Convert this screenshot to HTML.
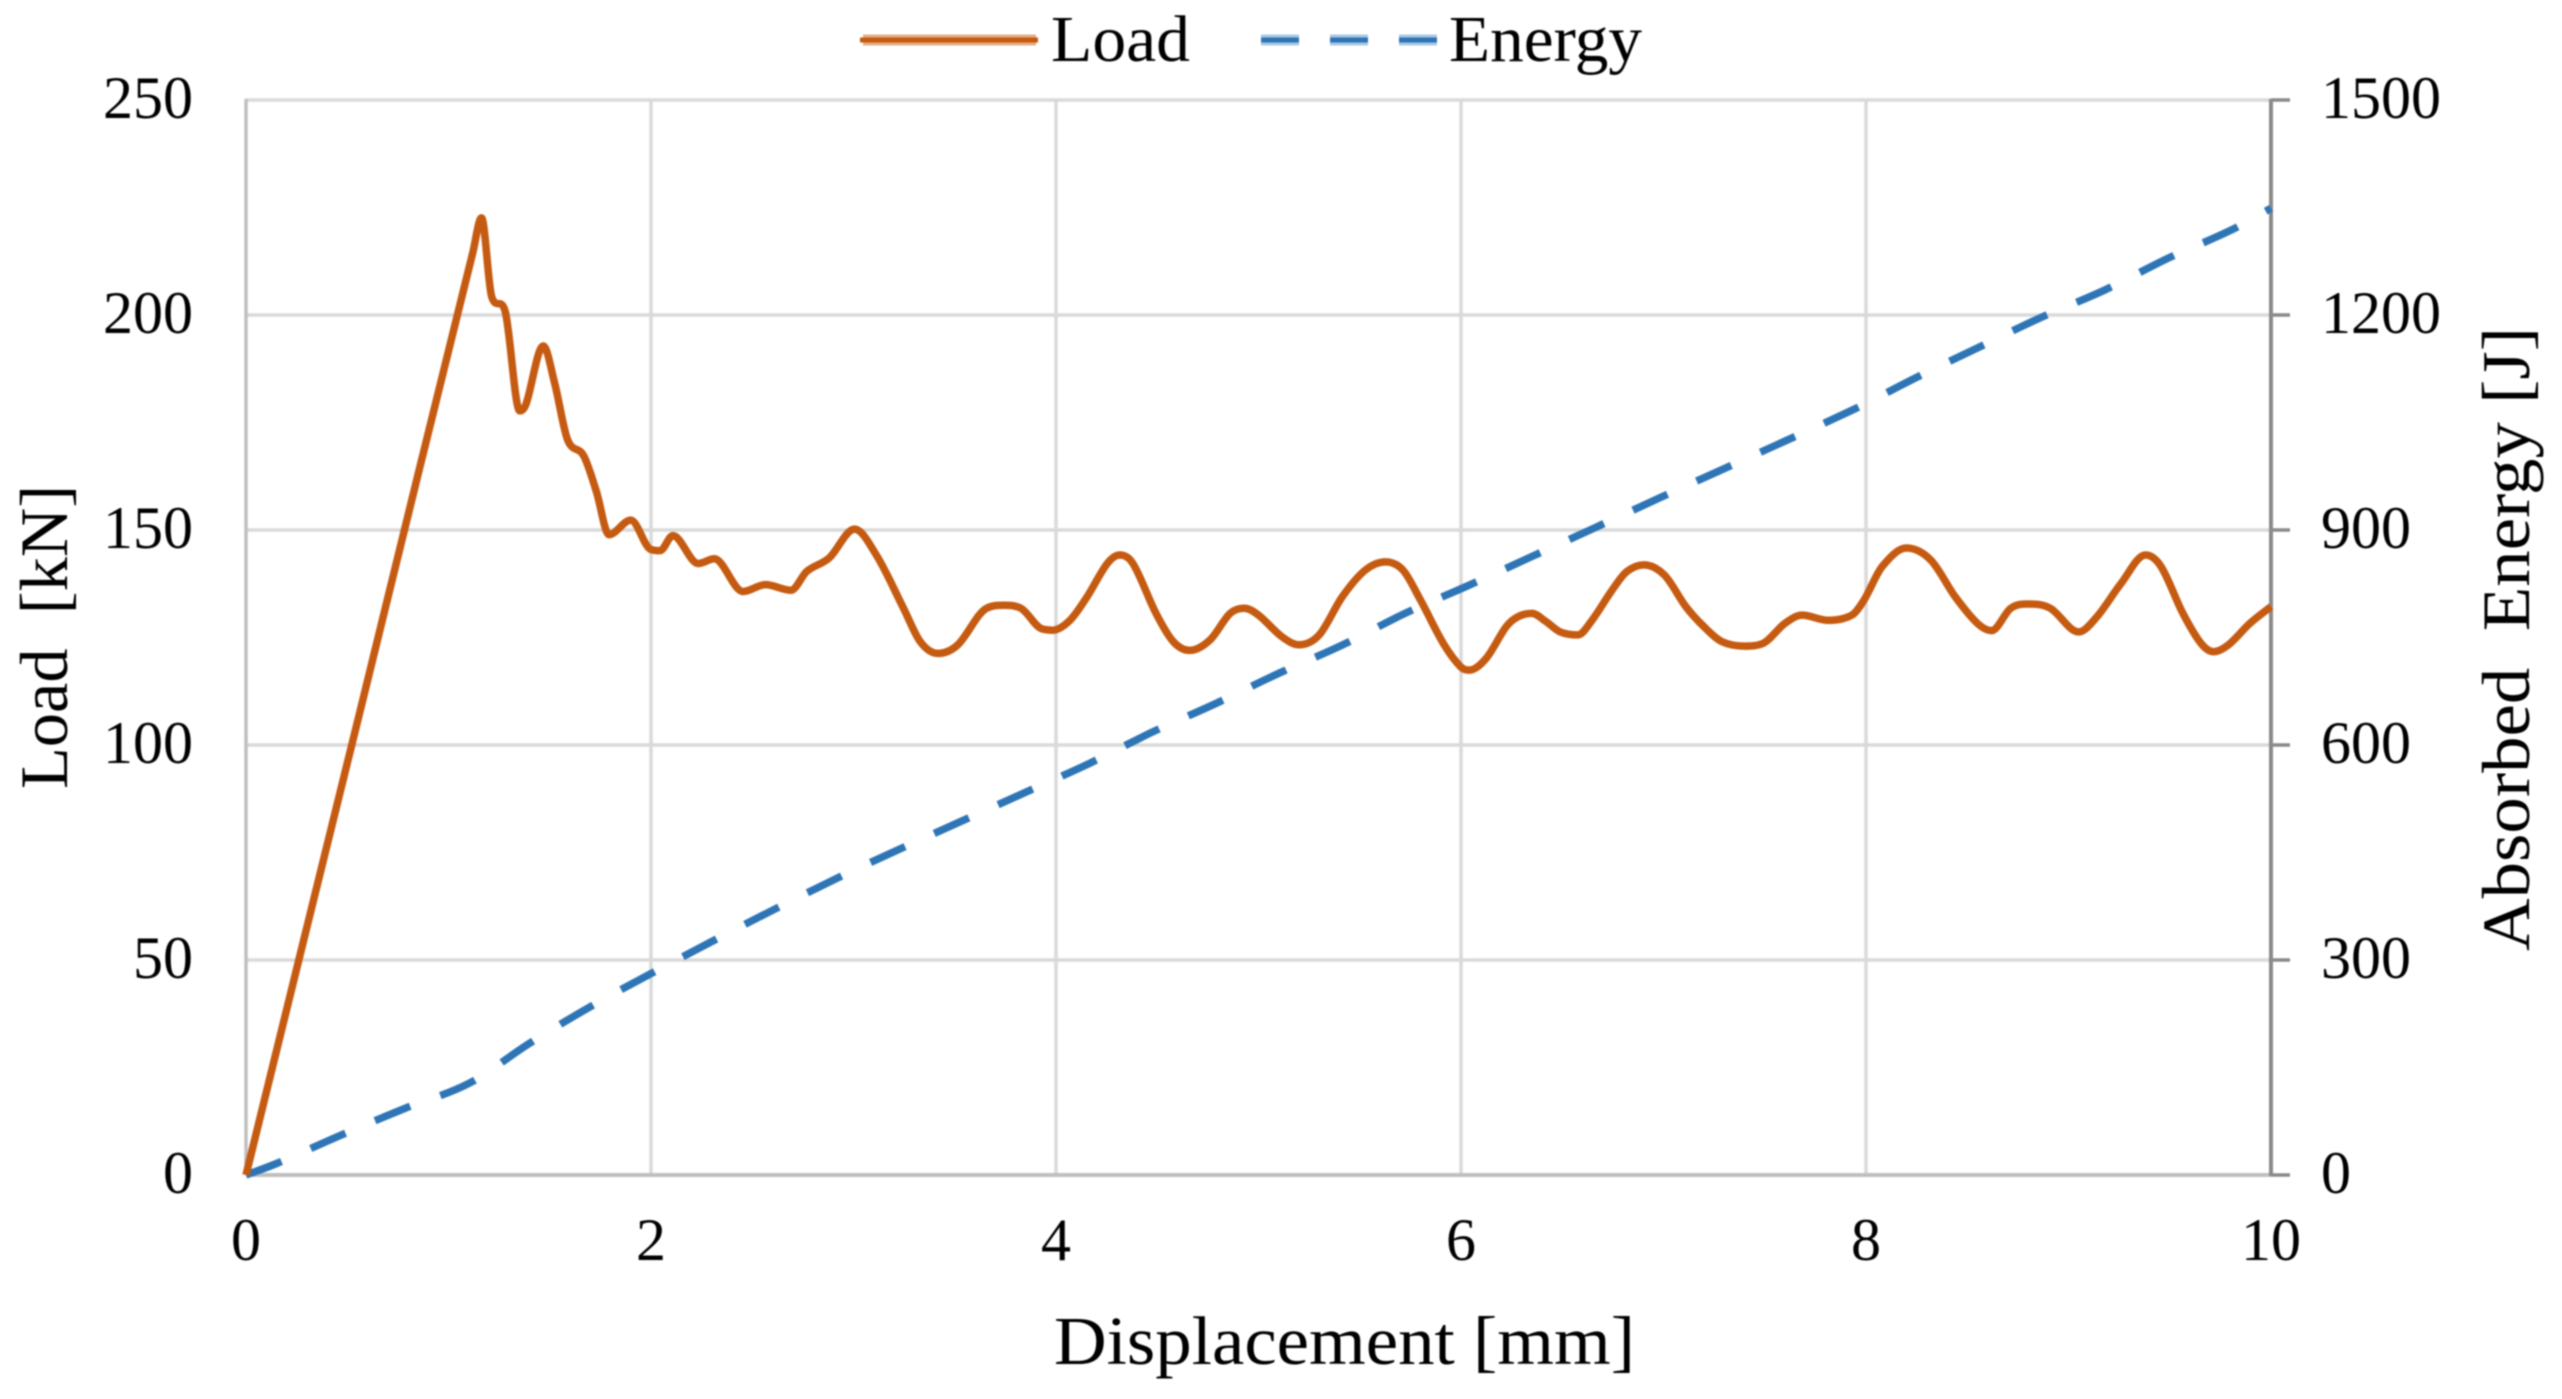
<!DOCTYPE html>
<html>
<head>
<meta charset="utf-8">
<title>Load and Absorbed Energy vs Displacement</title>
<style>
html,body{margin:0;padding:0;background:#fff;width:2562px;height:1399px;overflow:hidden}
svg{display:block;filter:blur(0.7px)}
text{font-family:"Liberation Serif",serif;fill:#000}
</style>
</head>
<body>
<svg id="chart" xmlns="http://www.w3.org/2000/svg" width="2562" height="1399" viewBox="0 0 2562 1399">
  <rect x="-5" y="-5" width="2572" height="1409" fill="#fff"/>
  <g id="grid"></g>
  <g id="axes"></g>
  <g id="ticks"></g>
  <g id="series"></g>

  <text x="1054" y="1364" font-size="69" textLength="581" lengthAdjust="spacingAndGlyphs">Displacement [mm]</text>
  <text transform="translate(67,789) rotate(-90)" font-size="68" textLength="304" lengthAdjust="spacingAndGlyphs">Load&#160;&#160;[kN]</text>
  <text transform="translate(2529,951) rotate(-90)" font-size="68" textLength="624" lengthAdjust="spacingAndGlyphs">Absorbed&#160;&#160;Energy [J]</text>

  <g>
    <g>
      <line x1="863" y1="40" x2="1036" y2="40" stroke="#E4AB87" stroke-width="11"/>
      <line x1="860" y1="40" x2="1038" y2="40" stroke="#C55A11" stroke-width="5"/>
      <text x="1051" y="61" font-size="66" textLength="139" lengthAdjust="spacingAndGlyphs">Load</text>
    </g>
    <g>
      <line x1="1261" y1="40" x2="1438" y2="40" stroke="#A8C8E4" stroke-width="11" stroke-dasharray="38 31"/>
      <line x1="1261" y1="40" x2="1438" y2="40" stroke="#2E75B6" stroke-width="5" stroke-dasharray="38 31"/>
      <text x="1449" y="61" font-size="66" textLength="193" lengthAdjust="spacingAndGlyphs">Energy</text>
    </g>
  </g>
</svg>
<script>
const xTickLabels = [0, 2, 4, 6, 8, 10];
const loadTickLabels = [0, 50, 100, 150, 200, 250];
const energyTickLabels = [0, 300, 600, 900, 1200, 1500];

const loadDisp = [0,0.3,0.564,0.85,1.12,1.163,1.213,1.279,1.352,1.383,1.468,1.525,1.588,1.667,1.73,1.793,1.90,1.998,2.045,2.108,2.233,2.313,2.454,2.565,2.691,2.77,2.88,3.005,3.115,3.245,3.33,3.416,3.515,3.657,3.742,3.827,3.926,3.983,4.069,4.154,4.253,4.315,4.38,4.494,4.58,4.66,4.76,4.86,4.93,5.0,5.115,5.2,5.3,5.414,5.528,5.627,5.713,5.8,5.913,5.998,6.04,6.125,6.223,6.28,6.35,6.42,6.49,6.577,6.647,6.746,6.818,6.903,7.005,7.11,7.2,7.29,7.4,7.49,7.6,7.685,7.81,7.93,7.99,8.08,8.2,8.32,8.44,8.55,8.62,8.715,8.8,8.91,9.05,9.14,9.26,9.38,9.457,9.565,9.655,9.716,9.79,9.896,10];
const loadValues = [0,57.5,108,163,214.5,222.6,204.3,201,177.7,179.3,192.8,184,171,167.3,159,148.9,152.3,145.5,145.2,148.7,142.2,143.3,135.7,137.3,136,140.4,143.5,150.2,144,132,124,121.3,123.3,131.8,132.5,131.8,127.1,126.7,129,134.5,142.2,144.2,142.2,130.6,124,122,124.4,130.6,131.8,130.2,125.2,123.3,125.6,134.5,140.7,142.6,140.7,133.7,123.6,118.2,117.4,120.2,127.5,129.8,130.6,128.7,126.3,125.6,129,136,140.3,141.9,139.5,132.2,127.5,124,123,123.6,128.3,130.2,129,130.2,133.7,141.5,145.8,143,134.5,128.3,126.6,131.8,132.8,131.8,126.3,129.8,137.6,144.2,141.5,130.6,123.6,121.7,123.3,128.3,132.2];

const energyDisp = [0,0.154,0.47,0.785,1.1,1.4,1.7,2,2.5,3,3.856,4.167,4.48,4.79,5.1,5.414,5.726,6.04,6.35,6.66,6.99,7.93,8.25,8.55,8.86,9.18,9.49,9.8,10];
const energyValues = [0,16.4,55.8,93,127.7,183.7,234.8,281,355,425,534.8,574.6,618.6,658,700,739.5,784,823,863,903,946,1067,1113,1154,1196,1235,1279,1318,1349];

const plotLeft = 246, plotRight = 2271, plotTop = 100, plotBottom = 1175;
const xMax = 10, loadMax = 250, energyMax = 1500;
const scaleX = function (v) { return plotLeft + (v / xMax) * (plotRight - plotLeft); };
const scaleLoad = function (v) { return plotBottom - (v / loadMax) * (plotBottom - plotTop); };
const scaleEnergy = function (v) { return plotBottom - (v / energyMax) * (plotBottom - plotTop); };

const NS = 'http://www.w3.org/2000/svg';
function make(tag, parent) {
  const el = document.createElementNS(NS, tag);
  parent.appendChild(el);
  return el;
}
function setLine(el, x1, y1, x2, y2, stroke, width) {
  el.setAttribute('x1', x1);
  el.setAttribute('y1', y1);
  el.setAttribute('x2', x2);
  el.setAttribute('y2', y2);
  el.setAttribute('stroke', stroke);
  el.setAttribute('stroke-width', width);
}
function setLabel(el, x, y, anchor, content) {
  el.setAttribute('x', x);
  el.setAttribute('y', y);
  el.setAttribute('text-anchor', anchor);
  el.setAttribute('font-size', 60);
  el.textContent = content;
}
/* Monotone cubic through the data so peaks stay rounded without overshoot */
function smoothPath(xs, ys, fx, fy) {
  const px = xs.map(fx), py = ys.map(fy), n = px.length;
  const sec = [];
  for (let i = 0; i < n - 1; i++) sec.push((py[i + 1] - py[i]) / (px[i + 1] - px[i]));
  const m = [sec[0]];
  for (let i = 1; i < n - 1; i++) {
    if (sec[i - 1] * sec[i] <= 0) { m.push(0); continue; }
    const t = (py[i + 1] - py[i - 1]) / (px[i + 1] - px[i - 1]);
    const lim = 3 * Math.min(Math.abs(sec[i - 1]), Math.abs(sec[i]));
    m.push(Math.sign(t) * Math.min(Math.abs(t), lim));
  }
  m.push(sec[n - 2]);
  let d = 'M' + px[0].toFixed(2) + ' ' + py[0].toFixed(2);
  for (let i = 0; i < n - 1; i++) {
    const h = (px[i + 1] - px[i]) / 3;
    d += 'C' + (px[i] + h).toFixed(2) + ' ' + (py[i] + m[i] * h).toFixed(2) + ' ' + (px[i + 1] - h).toFixed(2) + ' ' + (py[i + 1] - m[i + 1] * h).toFixed(2) + ' ' + px[i + 1].toFixed(2) + ' ' + py[i + 1].toFixed(2);
  }
  return d;
}

const gridG = document.getElementById('grid');
const axesG = document.getElementById('axes');
const ticksG = document.getElementById('ticks');
const seriesG = document.getElementById('series');

xTickLabels.forEach(function (v) {
  if (v === 0 || v === xMax) return;
  const ln = make('line', gridG);
  
  
  setLine(ln, scaleX(v), plotTop, scaleX(v), plotBottom, '#d9d9d9', 3.5);
});
loadTickLabels.forEach(function (v) {
  if (v === 0) return;
  const ln = make('line', gridG);
  
  
  setLine(ln, plotLeft, scaleLoad(v), plotRight, scaleLoad(v), '#d9d9d9', 3.5);
});

const leftAxis = make('line', axesG);


setLine(leftAxis, plotLeft, plotTop - 1, plotLeft, plotBottom, '#bfbfbf', 3.5);

const bottomAxis = make('line', axesG);


setLine(bottomAxis, plotLeft, plotBottom, plotRight, plotBottom, '#bfbfbf', 4);

const rightAxis = make('line', axesG);


setLine(rightAxis, plotRight, plotTop - 1, plotRight, plotBottom + 1, '#8a8a8a', 4);

energyTickLabels.forEach(function (v) {
  const t = make('line', axesG);
  
  
  setLine(t, plotRight, scaleEnergy(v), plotRight + 19, scaleEnergy(v), '#8a8a8a', 3.5);
});

xTickLabels.forEach(function (v) {
  const t = make('text', ticksG);
  
  
  setLabel(t, scaleX(v), 1260, 'middle', v);
});
loadTickLabels.forEach(function (v) {
  const t = make('text', ticksG);
  
  
  setLabel(t, 193, scaleLoad(v) + 18, 'end', v);
});
energyTickLabels.forEach(function (v) {
  const t = make('text', ticksG);
  
  
  setLabel(t, 2321, scaleEnergy(v) + 18, 'start', v);
});

const energyLine = make('path', seriesG);


energyLine.setAttribute('d', smoothPath(energyDisp, energyValues, scaleX, scaleEnergy));
energyLine.setAttribute('fill', 'none');
energyLine.setAttribute('stroke', '#2E75B6');
energyLine.setAttribute('stroke-width', 7.5);
energyLine.setAttribute('stroke-dasharray', '38 32');

const loadLine = make('path', seriesG);


loadLine.setAttribute('d', smoothPath(loadDisp, loadValues, scaleX, scaleLoad));
loadLine.setAttribute('fill', 'none');
loadLine.setAttribute('stroke', '#C55A11');
loadLine.setAttribute('stroke-width', 7.5);
loadLine.setAttribute('stroke-linejoin', 'round');
</script>
</body>
</html>
